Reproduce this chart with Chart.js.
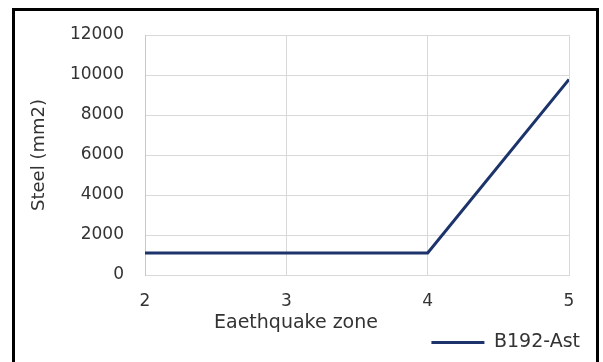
<!DOCTYPE html>
<html>
<head>
<meta charset="utf-8">
<script src="https://cdn.jsdelivr.net/npm/chart.js@4/dist/chart.umd.min.js"></script>
<style>
  html, body { margin: 0; padding: 0; background: #fff; }
  #wrap { position: relative; width: 603px; height: 362px; overflow: hidden; }
  #frame { position: absolute; left: 12px; top: 8px; width: 587px; height: 400px;
           box-sizing: border-box; border: 3px solid #000; pointer-events: none; }
  canvas { position: absolute; left: 0; top: 0; }
</style>
</head>
<body>
<div id="wrap">
  <canvas id="chart" width="603" height="362"></canvas>
  <div id="frame"></div>
</div>
<script>
// earthquake zones and steel area (mm2)
let zones = [2, 3, 4, 5];
let steel = [1100, 1100, 1100, 9780];
let seriesName = "B192-Ast";

let textColor = "#333333";
let gridColor = "#d9d9d9";
let fontFamily = "'DejaVu Sans', sans-serif";

let points = zones.map(function(z, i) { return {x: z, y: steel[i]}; });

let chart = new Chart(document.getElementById("chart"), {
  type: "line",
  data: {
    datasets: [{
      label: seriesName,
      data: points,
      borderColor: "#1c336b",
      backgroundColor: "#1c336b",
      borderWidth: 3,
      pointRadius: 0,
      tension: 0
    }]
  },
  options: {
    responsive: false,
    animation: false,
    devicePixelRatio: 1,
    layout: {
      padding: {left: 12, right: 23, top: 35, bottom: 0}
    },
    scales: {
      x: {
        type: "linear",
        min: 2,
        max: 5,
        ticks: {
          stepSize: 1,
          padding: 16,
          color: textColor,
          font: {family: fontFamily, size: 17}
        },
        grid: {color: gridColor, drawTicks: false},
        border: {color: gridColor},
        afterFit: function(scale) { scale.height = 36; }
      },
      y: {
        min: 0,
        max: 12000,
        ticks: {
          stepSize: 2000,
          padding: 21,
          color: textColor,
          font: {family: fontFamily, size: 17},
          callback: function(v) { return String(v); }
        },
        grid: {color: gridColor, drawTicks: false},
        border: {color: "#c8c8c8"},
        title: {
          display: true,
          text: "Steel (mm2)",
          color: textColor,
          padding: {top: 17, bottom: 0},
          font: {family: fontFamily, size: 18}
        },
        afterFit: function(scale) { scale.width = 133; }
      },
      yRight: {
        position: "right",
        display: true,
        grid: {display: false},
        ticks: {display: false},
        border: {display: false},
        afterFit: function(scale) { scale.width = 11; }
      }
    },
    plugins: {
      title: {
        display: true,
        position: "bottom",
        weight: 500,
        text: "Eaethquake zone",
        color: textColor,
        padding: {top: 3, bottom: 0},
        font: {family: fontFamily, size: 19, weight: "normal", lineHeight: 1.0}
      },
      legend: {
        display: true,
        position: "bottom",
        align: "end",
        labels: {
          color: textColor,
          padding: 0,
          usePointStyle: true,
          pointStyle: "line",
          pointStyleWidth: 53,
          font: {family: fontFamily, size: 19}
        }
      },
      tooltip: {enabled: false}
    }
  }
});
</script>
</body>
</html>
